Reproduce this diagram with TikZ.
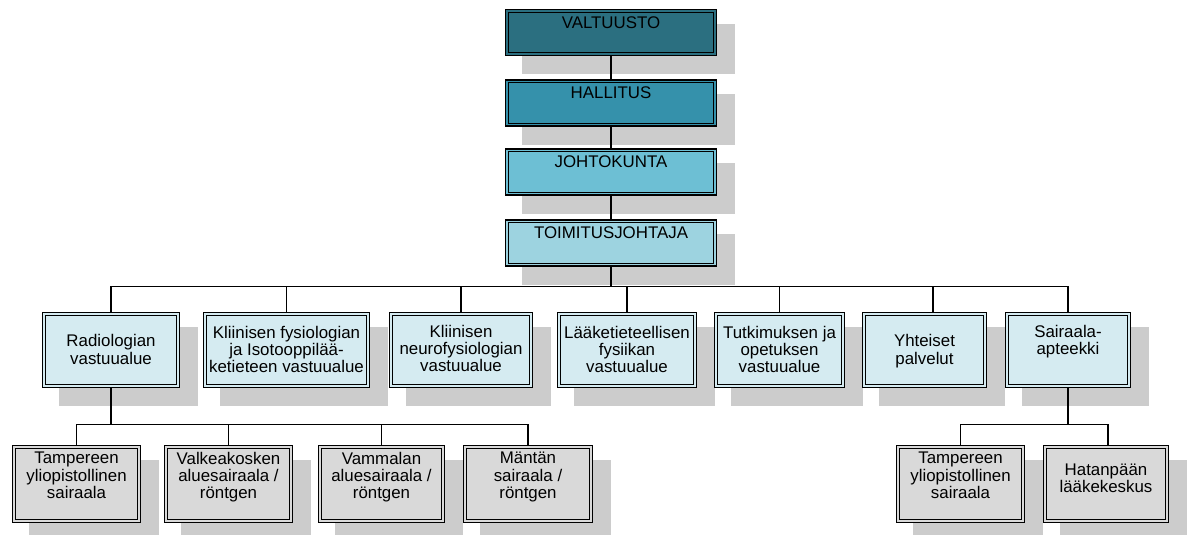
\documentclass[tikz,border=0pt]{standalone}
\usepackage{fontspec}
\setmainfont{Liberation Sans}
\usetikzlibrary{calc,backgrounds}
\definecolor{cv}{HTML}{2B6F80}
\definecolor{ch}{HTML}{3591AB}
\definecolor{cj}{HTML}{6DBFD4}
\definecolor{ct}{HTML}{9DD3E0}
\definecolor{cl}{HTML}{D5EBF1}
\definecolor{cg}{HTML}{D9D9D9}
\definecolor{shadowc}{HTML}{CCCCCC}
\begin{document}
\begin{tikzpicture}[x=0.75pt,y=-0.75pt,
  ob/.style={draw=black, line width=1.2pt, inner sep=0pt,
    path picture={\draw[line width=0.7pt]
      ([shift={(2.1pt,-2.1pt)}]path picture bounding box.north west) rectangle
      ([shift={(-2.1pt,2.1pt)}]path picture bounding box.south east);}},
  topbox/.style={ob, minimum width=158pt, minimum height=34.5pt},
  midbox/.style={ob, fill=cl, minimum width={(#1-1)*0.75pt}, minimum height=56.25pt},
  lowbox/.style={ob, fill=cg, minimum width={(#1-1)*0.75pt}, minimum height=57.75pt},
  lbl/.style={align=center, inner sep=0pt, font=\fontsize{12.65pt}{13pt}\selectfont},
  conn/.style={draw=black, line width=1.05pt}
]
\useasboundingbox (0,0) rectangle (1193,535);

% top chain
\node[topbox, fill=cv] (v) at (611,32.5) {};
\node[topbox, fill=ch] (h) at (611,103) {};
\node[topbox, fill=cj] (j) at (611,172) {};
\node[topbox, fill=ct] (tj) at (611,243) {};
\node[lbl, anchor=base] (vt) at ($(v.north)+(0,19.5)$) {VALTUUSTO};
\node[lbl, anchor=base] (ht) at ($(h.north)+(0,19.5)$) {HALLITUS};
\node[lbl, anchor=base] (jt) at ($(j.north)+(0,19.5)$) {JOHTOKUNTA};
\node[lbl, anchor=base] (tjt) at ($(tj.north)+(0,19.5)$) {TOIMITUSJOHTAJA};

% level 2
\node[midbox=138] (r) at (111,350) {};
\node[midbox=167] (k) at (286.5,350) {};
\node[midbox=144] (n) at (461,350) {};
\node[midbox=140] (l) at (627,350) {};
\node[midbox=131] (tu) at (779.5,350) {};
\node[midbox=125] (y) at (924.5,350) {};
\node[midbox=126] (s) at (1068,350) {};
\node[lbl] (rt) at ($(r)+(0,-0.5)$) {Radiologian\\vastuualue};
\node[lbl] (kt) at ($(k)+(0,-0.5)$) {Kliinisen fysiologian\\ja Isotooppilää-\\ketieteen vastuualue};
\node[lbl] (nt) at ($(n)+(0,-1.5)$) {Kliinisen\\neurofysiologian\\vastuualue};
\node[lbl] (lt) at ($(l)+(0,-0.5)$) {Lääketieteellisen\\fysiikan\\vastuualue};
\node[lbl] (tut) at ($(tu)+(0,-0.5)$) {Tutkimuksen ja\\opetuksen\\vastuualue};
\node[lbl] (yt) at ($(y)+(0,1)$) {Yhteiset\\palvelut};
\node[lbl] (st) at ($(s)+(0,-8.5)$) {Sairaala-\\apteekki};

% level 3
\node[lowbox=129] (a1) at (76.5,484) {};
\node[lowbox=129] (a2) at (228.5,484) {};
\node[lowbox=127] (a3) at (381.5,484) {};
\node[lowbox=130] (a4) at (528,484) {};
\node[lowbox=129] (b1) at (960.5,484) {};
\node[lowbox=126] (b2) at (1106,484) {};
\node[lbl] (a1t) at ($(a1)+(0,-8.5)$) {Tampereen\\yliopistollinen\\sairaala};
\node[lbl] (a2t) at ($(a2)+(0,-7)$) {Valkeakosken\\aluesairaala /\\röntgen};
\node[lbl] (a3t) at ($(a3)+(0,-7)$) {Vammalan\\aluesairaala /\\röntgen};
\node[lbl] (a4t) at ($(a4)+(0,-7)$) {Mäntän\\sairaala /\\röntgen};
\node[lbl] (b1t) at ($(b1)+(0,-8.5)$) {Tampereen\\yliopistollinen\\sairaala};
\node[lbl] (b2t) at ($(b2)+(0,-6)$) {Hatanpään\\lääkekeskus};

% shadows and background
\begin{scope}[on background layer]
  \fill[white] (0,0) rectangle (1193,535);
  \foreach \n in {v,h,j,tj,r,k,n,l,tu,y,s,a1,a2,a3,a4,b1,b2}
    \fill[shadowc] ([shift={(12.75pt,-11.25pt)}]\n.north west) rectangle
                   ([shift={(13.5pt,-13.5pt)}]\n.south east);
\end{scope}

% connectors
\draw[conn] (v.south) -- (h.north);
\draw[conn] (h.south) -- (j.north);
\draw[conn] (j.south) -- (tj.north);
\draw[conn] (tj.south) -- ++(0,20);
\draw[conn] (r.north) -- ++(0,-25) -| (s.north);
\draw[conn] (k.north) -- ++(0,-25);
\draw[conn] (n.north) -- ++(0,-25);
\draw[conn] (l.north) -- ++(0,-25);
\draw[conn] (tu.north) -- ++(0,-25);
\draw[conn] ([xshift=6.4pt]y.north) -- ++(0,-25);
\draw[conn] (r.south) -- ++(0,37);
\draw[conn] (a1.north) -- ++(0,-20) -| (a4.north);
\draw[conn] (a2.north) -- ++(0,-20);
\draw[conn] (a3.north) -- ++(0,-20);
\draw[conn] (s.south) -- ++(0,37);
\draw[conn] (b1.north) -- ++(0,-20) -| ([xshift=1.5pt]b2.north);
\end{tikzpicture}
\end{document}
